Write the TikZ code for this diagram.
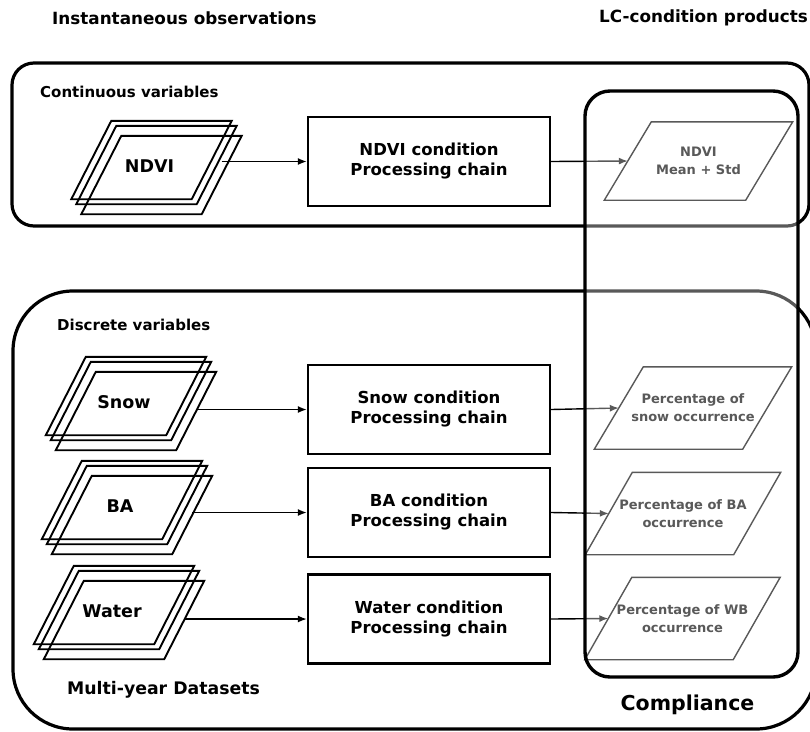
\documentclass[tikz,border=0pt]{standalone}
\usepackage{fontspec}
\setmainfont{DejaVu Sans}
\usetikzlibrary{arrows.meta,calc}

% slanted outline drawn around a (borderless) rectangular node
\newcommand{\slantframe}[3][]{%
  \draw[#1] ($(#2.north west)+(#3/2,0)$) -- ($(#2.north east)+(#3/2,0)$)
    -- ($(#2.south east)-(#3/2,0)$) -- ($(#2.south west)-(#3/2,0)$) -- cycle;}

\tikzset{
  roundframe/.style={draw, line width=3.2pt, rounded corners=#1},
  procbox/.style={draw, line width=2.4pt, minimum width=242pt, minimum height=89pt,
    inner sep=0pt, align=center, font=\bfseries\fontsize{16.5}{20}\selectfont},
  docbody/.style={minimum width=120pt, minimum height=78pt, inner sep=0pt},
  doctext/.style={inner sep=0pt, font=\bfseries\fontsize{17.5}{20}\selectfont},
  outbody/.style={minimum width=148pt, minimum height=82pt, inner sep=0pt,
    align=center, font=\bfseries\fontsize{13}{18}\selectfont},
  doc line/.style={line width=1.9pt},
  out line/.style={line width=1.4pt},
  arr/.style={line width=1.4pt, -{Latex[length=9pt,width=7pt]}},
  heading/.style={inner sep=0pt, font=\bfseries\fontsize{16.8}{20}\selectfont},
  group/.style={inner sep=0pt, anchor=west, font=\bfseries\fontsize{15}{18}\selectfont},
}

\begin{document}
\begin{tikzpicture}[x=1pt, y=-1pt]
\useasboundingbox (0,0) rectangle (810,731);
\fill[white] (0,0) rectangle (810,731);

% headings
\node[heading, anchor=west] (hin)  at (52,18)  {Instantaneous observations};
\node[heading, anchor=east] (hout) at (808,18) {LC-condition products};

% the two variable groups
\draw[roundframe=22pt] (12,63) rectangle (809,226);
\draw[roundframe=60pt] (13,291) rectangle (816,729);
\node[group] (gcont) at (40,92)  {Continuous variables};
\node[group] (gdisc) at (57,325) {Discrete variables};
\node[inner sep=0pt, anchor=west, font=\bfseries\fontsize{17.3}{20}\selectfont]
  (multi) at (67,690) {Multi-year Datasets};

% stacked multi-year inputs: front sheet plus two sheets behind it
\foreach \n/\cx/\cy/\t in {ndvi/151.5/160/NDVI, snow/126/396/Snow,
                          ba/122/500/BA, water/114/605/Water}{
  \node[docbody] (\n3) at (\cx+10,\cy+15) {};
  \node[docbody] (\n2) at (\cx+5,\cy+5) {};
  \node[docbody] (\n) at (\cx,\cy) {};
  \node[doctext] (\n t) at (\cx-2,\cy+6) {\t};
  \slantframe[doc line]{\n3}{40}
  \slantframe[doc line]{\n2}{40}
  \slantframe[doc line]{\n}{40}
}

% processing chains
\node[procbox] (pndvi)  at (429,161.5) {NDVI condition\\Processing chain};
\node[procbox] (psnow)  at (429,409.5) {Snow condition\\Processing chain};
\node[procbox] (pba)    at (429,512.5) {BA condition\\Processing chain};
\node[procbox] (pwater) at (429,619)   {Water condition\\Processing chain};

% condition products
\node[outbody, minimum width=141pt, minimum height=78pt] (ondvi) at (698.5,161)
  {NDVI\\Mean + Std};
\node[outbody] (osnow) at (693,408)   {Percentage of\\snow occurrence};
\node[outbody] (oba)   at (683,513.5) {Percentage of BA\\occurrence};
\node[outbody] (owb)   at (682.5,618.5) {Percentage of WB\\occurrence};
\slantframe[out line]{ondvi}{47}
\slantframe[out line]{osnow}{49}
\slantframe[out line]{oba}{47}
\slantframe[out line]{owb}{47}

% connectors
\draw[arr] (ndvi3.east |- pndvi.west)   -- (pndvi.west);
\draw[arr] (snow3.east |- psnow.west)   -- (psnow.west);
\draw[arr] (ba3.east |- pba.west)       -- (pba.west);
\draw[arr] (water3.east |- pwater.west) -- (pwater.west);
\draw[arr] (pndvi.east)  -- (ondvi.west);
\draw[arr] (psnow.east)  -- (osnow.west);
\draw[arr] (pba.east)    -- (oba.west);
\draw[arr] (pwater.east) -- (owb.west);

% compliance frame, a translucent sheet over the products
\draw[line width=3.4pt, rounded corners=25pt, fill=white, fill opacity=0.35]
  (585,91) rectangle (798,677);
\node[inner sep=0pt, font=\bfseries\fontsize{20.5}{24}\selectfont]
  (compl) at (687.5,705) {Compliance};
\end{tikzpicture}
\end{document}
